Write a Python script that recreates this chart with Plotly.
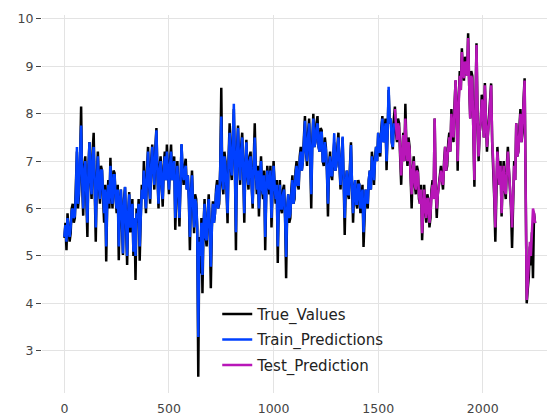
import plotly.graph_objects as go

# ---- data ----
true_x = list(range(0, 2255, 5))
true_values = [
    5.38, 5.7, 5.12, 5.9, 5.6, 5.3, 5.48, 6.0, 6.1, 5.7,
    5.8, 6.4, 7.2, 6.0, 6.3, 7.0, 8.15, 6.5, 5.85, 6.9,
    7.1, 6.2, 5.4, 6.9, 7.4, 6.6, 6.2, 7.2, 7.6, 6.4,
    5.3, 6.6, 7.2, 6.5, 6.1, 6.9, 6.8, 6.2, 5.7, 6.5,
    4.88, 6.2, 6.6, 6.0, 7.07, 6.4, 6.0, 6.8, 6.75, 6.2,
    5.9, 6.5, 4.91, 6.1, 6.4, 5.7, 5.02, 6.2, 6.45, 5.6,
    4.81, 5.9, 6.35, 5.5, 5.6, 6.2, 5.0, 5.8, 4.49, 6.0,
    5.7, 6.2, 4.9, 5.8, 6.5, 6.2, 7.0, 6.4, 5.9, 6.8,
    7.3, 6.5, 6.1, 7.0, 7.35, 6.8, 6.4, 7.3, 7.7, 6.7,
    6.0, 6.9, 7.1, 6.5, 6.04, 6.9, 7.2, 6.6, 7.35, 6.8,
    6.3, 7.0, 7.35, 6.6, 6.8, 7.1, 5.55, 6.6, 7.0, 6.4,
    5.62, 6.5, 7.35, 6.8, 6.5, 6.9, 7.05, 6.4, 6.7, 6.2,
    5.12, 6.3, 6.8, 6.1, 5.48, 6.3, 6.2, 5.6, 2.45, 5.4,
    4.63, 5.8, 4.21, 5.6, 6.2, 5.4, 5.2, 5.9, 6.3, 5.5,
    4.32, 5.6, 6.15, 5.7, 5.9, 6.4, 6.6, 6.0, 6.1, 6.9,
    8.55, 6.5, 6.3, 7.2, 7.0, 6.4, 5.69, 7.1, 7.8, 6.9,
    6.6, 7.5, 8.1, 6.9, 5.12, 7.2, 7.75, 7.0, 6.5, 7.3,
    7.6, 6.8, 5.7, 6.9, 7.45, 6.7, 6.4, 7.1, 7.2, 6.5,
    6.0, 7.0, 7.8, 6.8, 6.3, 6.9, 5.83, 6.6, 7.1, 6.4,
    6.2, 6.8, 5.12, 6.3, 6.9, 6.5, 6.3, 6.9, 5.6, 6.4,
    7.0, 6.5, 6.1, 6.6, 4.85, 6.2, 6.6, 6.0, 5.9, 6.4,
    6.5, 5.8, 4.53, 6.0, 6.3, 5.7, 5.8, 6.4, 6.7, 6.1,
    6.2, 6.8, 7.0, 6.5, 6.4, 7.1, 7.3, 6.8, 7.0, 7.5,
    7.95, 7.2, 6.9, 7.6, 7.9, 7.1, 6.0, 7.4, 8.0, 7.3,
    7.4, 7.8, 7.95, 7.3, 7.2, 7.7, 7.65, 7.0, 6.9, 7.5,
    7.3, 6.8, 5.83, 6.9, 7.2, 6.7, 6.6, 7.1, 7.4, 6.8,
    6.9, 7.3, 7.6, 6.9, 6.4, 7.0, 7.5, 6.6, 5.44, 6.5,
    6.8, 6.3, 6.2, 6.9, 7.4, 6.5, 5.7, 6.4, 6.6, 6.1,
    6.0, 6.6, 6.5, 5.9, 6.2, 6.5, 5.19, 6.0, 6.4, 6.2,
    6.0, 6.6, 6.8, 6.4, 7.2, 6.9, 6.5, 7.1, 7.3, 7.0,
    7.6, 7.2, 7.1, 7.7, 7.95, 7.4, 7.5, 7.9, 6.81, 7.6,
    8.5, 7.8, 7.9, 7.4, 7.25, 7.9, 8.15, 7.6, 7.4, 7.9,
    7.8, 7.1, 6.5, 7.2, 7.6, 7.0, 8.21, 7.3, 6.9, 7.5,
    7.3, 6.7, 6.0, 6.8, 7.1, 6.5, 6.3, 6.9, 6.8, 6.2,
    6.1, 6.5, 5.33, 5.9, 6.5, 6.0, 5.7, 6.3, 6.2, 5.6,
    5.8, 6.4, 6.6, 6.2, 7.9, 6.4, 5.8, 6.3, 6.5, 6.8,
    6.9, 6.6, 6.4, 7.0, 7.3, 6.8, 6.9, 7.4, 7.6, 7.2,
    8.1, 7.7, 7.4, 8.2, 8.7, 8.0, 6.8, 8.3, 8.9, 8.5,
    9.38, 8.9, 8.7, 9.2, 9.1, 8.8, 9.7, 8.6, 7.9, 8.9,
    8.8, 7.6, 6.46, 8.2, 9.49, 8.0, 7.0, 7.6, 7.8, 8.4,
    8.3, 7.5, 8.65, 7.9, 7.2, 7.6, 7.9, 8.3, 8.64, 7.4,
    6.9, 6.2, 5.3, 6.6, 7.3, 6.8, 6.5, 7.0, 5.83, 6.6,
    7.0, 6.4, 6.2, 6.9, 7.3, 6.8, 6.5, 6.0, 5.17, 6.3,
    7.0, 6.6, 7.8, 7.1, 7.2, 7.7, 8.1, 7.4, 7.6, 8.3,
    8.75, 6.5, 4.0, 4.3, 4.56, 5.2, 4.8, 5.5, 4.53, 5.9, 5.69,
]

train_x = list(range(0, 1580, 5))
train_predictions = [
    5.4, 5.65, 5.3, 5.8, 5.55, 5.4, 5.6, 5.95, 6.0, 5.8,
    5.85, 6.3, 7.3, 6.1, 6.4, 6.9, 7.75, 6.6, 6.0, 6.8,
    7.0, 6.3, 5.7, 6.8, 7.4, 6.6, 6.3, 7.1, 7.3, 6.5,
    5.6, 6.5, 7.1, 6.5, 6.2, 6.8, 6.8, 6.3, 5.9, 6.4,
    5.2, 6.2, 6.5, 6.1, 6.9, 6.4, 6.1, 6.7, 6.7, 6.2,
    6.0, 6.4, 5.2, 6.1, 6.4, 5.8, 5.05, 6.1, 6.46, 5.7,
    5.0, 5.9, 6.3, 5.6, 5.7, 6.1, 5.09, 5.8, 5.0, 5.9,
    5.8, 6.1, 5.2, 5.8, 6.4, 6.2, 6.8, 6.4, 6.0, 6.7,
    7.2, 6.5, 6.2, 6.9, 7.3, 6.8, 6.5, 7.2, 7.65, 6.7,
    6.1, 6.8, 7.0, 6.5, 6.2, 6.8, 7.1, 6.6, 7.2, 6.8,
    6.4, 6.9, 7.2, 6.6, 6.8, 7.0, 5.8, 6.6, 6.9, 6.4,
    5.8, 6.5, 7.36, 6.8, 6.6, 6.8, 6.9, 6.4, 6.7, 6.2,
    5.4, 6.3, 6.7, 6.1, 5.6, 6.2, 6.1, 5.6, 3.29, 5.3,
    5.0, 5.7, 4.6, 5.6, 6.1, 5.4, 5.33, 5.9, 6.2, 5.5,
    4.77, 5.6, 6.1, 5.7, 5.9, 6.3, 6.5, 6.0, 6.2, 6.8,
    7.94, 6.6, 6.4, 7.1, 6.9, 6.4, 5.9, 7.0, 7.6, 6.9,
    6.7, 7.4, 8.21, 6.9, 5.5, 7.1, 7.7, 7.0, 6.6, 7.2,
    7.5, 6.8, 5.9, 6.9, 7.4, 6.7, 6.5, 7.0, 7.1, 6.5,
    6.1, 6.9, 7.5, 6.8, 6.4, 6.8, 6.0, 6.6, 7.0, 6.4,
    6.3, 6.7, 5.4, 6.3, 6.8, 6.5, 6.4, 6.8, 5.8, 6.4,
    6.9, 6.5, 6.2, 6.5, 5.2, 6.2, 6.5, 6.0, 6.0, 6.3,
    6.4, 5.8, 4.98, 6.0, 6.3, 5.8, 5.9, 6.3, 6.6, 6.1,
    6.3, 6.7, 6.9, 6.5, 6.5, 7.0, 7.2, 6.8, 7.0, 7.4,
    7.85, 7.2, 7.0, 7.5, 7.8, 7.1, 6.3, 7.3, 7.9, 7.3,
    7.4, 7.7, 7.8, 7.3, 7.2, 7.6, 7.6, 7.0, 7.0, 7.4,
    7.25, 6.8, 6.1, 6.9, 7.1, 6.7, 6.7, 7.1, 7.59, 6.8,
    6.9, 7.2, 7.5, 6.9, 6.5, 7.0, 7.52, 6.6, 5.8, 6.5,
    6.8, 6.3, 6.3, 6.8, 7.34, 6.5, 5.9, 6.4, 6.6, 6.1,
    6.1, 6.5, 6.5, 6.0, 6.3, 6.4, 5.5, 6.0, 6.4, 6.2,
    6.1, 6.6, 6.8, 6.4, 7.1, 6.9, 6.6, 7.0, 7.3, 7.0,
    7.6, 7.2, 7.2, 7.6, 7.9, 7.4, 7.5, 7.8, 7.0, 7.6,
    8.57, 7.8, 7.9, 7.4, 7.3, 7.8,
]

test_x = list(range(1580, 2255, 5))
test_prediction = [
    8.1, 7.6, 7.45, 7.8, 7.7, 7.2, 6.7, 7.2, 7.55, 7.0,
    7.9, 7.3, 7.0, 7.4, 7.25, 6.7, 6.3, 6.8, 7.0, 6.5,
    6.4, 6.8, 6.75, 6.3, 6.1, 6.4, 5.48, 5.9, 6.4, 6.0,
    5.8, 6.2, 6.2, 5.7, 5.9, 6.3, 6.5, 6.2, 7.9, 6.4,
    6.0, 6.3, 6.5, 6.7, 6.8, 6.6, 6.5, 6.9, 7.3, 6.8,
    7.0, 7.3, 7.5, 7.2, 8.0, 7.7, 7.5, 8.1, 8.71, 8.0,
    7.0, 8.2, 8.8, 8.5, 9.3, 8.9, 8.75, 9.1, 9.0, 8.8,
    9.6, 8.6, 7.9, 8.8, 8.7, 7.6, 6.6, 8.1, 9.45, 8.0,
    7.1, 7.6, 7.8, 8.3, 8.2, 7.5, 8.6, 7.9, 7.3, 7.6,
    7.8, 8.2, 8.6, 7.4, 7.0, 6.3, 5.6, 6.6, 7.2, 6.8,
    6.5, 6.9, 5.9, 6.6, 6.9, 6.4, 6.3, 6.8, 7.2, 6.8,
    6.5, 6.1, 5.6, 6.3, 6.9, 6.6, 7.8, 7.1, 7.2, 7.6,
    8.0, 7.4, 7.7, 8.2, 8.7, 6.6, 4.07, 4.4, 4.77, 5.3,
    5.0, 5.6, 6.0, 5.9, 5.69,
]

x_tick_vals = [0, 500, 1000, 1500, 2000]
y_tick_vals = [3, 4, 5, 6, 7, 8, 9, 10]

FONT = "DejaVu Sans"

fig = go.Figure()
fig.add_trace(go.Scatter(x=true_x, y=true_values, mode="lines", name="True_Values",
                         line=dict(color="#000000", width=2.5), legendgroup="a"))
fig.add_trace(go.Scatter(x=train_x, y=train_predictions, mode="lines", name="Train_Predictions",
                         line=dict(color="#0040ff", width=2.5), legendgroup="b"))
fig.add_trace(go.Scatter(x=test_x, y=test_prediction, mode="lines", name="Test_Prediction",
                         line=dict(color="#b816b8", width=2.5), legendgroup="c"))

fig.update_layout(
    width=547, height=420,
    template="plotly_white",
    paper_bgcolor="white", plot_bgcolor="white",
    margin=dict(l=42, r=0, t=15, b=27),
    font=dict(family=FONT, size=12.5, color="#444"),
    legend=dict(x=0.347, y=0.03, xanchor="left", yanchor="bottom",
                bgcolor="rgba(0,0,0,0)", font=dict(family=FONT, size=15, color="#222"),
                traceorder="grouped", tracegroupgap=3),
    xaxis=dict(range=[-107, 2307], tickvals=x_tick_vals, showgrid=True,
               gridcolor="#e3e3e3", zeroline=False, ticks="", showline=False,
               ticklabelstandoff=6),
    yaxis=dict(range=[2.107, 10.084], tickvals=y_tick_vals, showgrid=True,
               gridcolor="#e3e3e3", zeroline=False, ticks="outside", ticklen=5,
               tickcolor="#444", showline=False),
)

fig.write_html("out.html")
